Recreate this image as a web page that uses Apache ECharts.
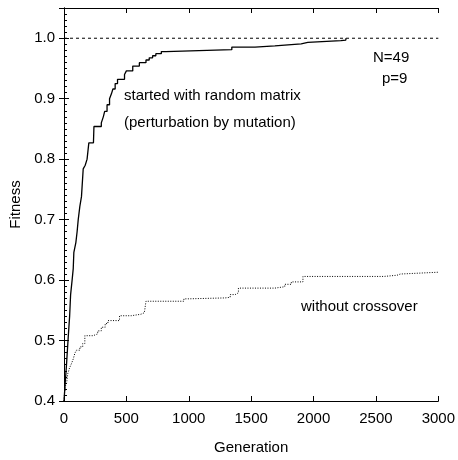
<!DOCTYPE html>
<html>
<head>
<meta charset="utf-8">
<script src="https://cdn.jsdelivr.net/npm/echarts@6/dist/echarts.min.js"></script>
<style>html,body{margin:0;padding:0;background:#fff}#c{width:458px;height:460px}</style>
</head>
<body>
<div id="c"></div>
<script>
// Generation vs fitness (step points: [generation, fitness])
var randomMatrix = [
  [0,0.40],[8,0.425],[20,0.46],[34,0.506],[45,0.54],[53,0.576],[65,0.60],[74,0.619],
  [79,0.646],[95,0.662],[105,0.68],[114,0.70],[127,0.722],[140,0.738],[154,0.784],
  [170,0.79],[185,0.80],[199,0.827],[236,0.83],[240,0.854],[299,0.86],[315,0.87],
  [326,0.879],[345,0.89],[365,0.90],[380,0.908],[392,0.916],[410,0.925],[429,0.932],
  [485,0.940],[500,0.946],[551,0.954],[604,0.9595],[657,0.964],[683,0.9676],[710,0.971],
  [736,0.9745],[780,0.978],[816,0.981],[1345,0.9854],[1531,0.9875],[1690,0.9908],
  [1901,0.993],[1954,0.996],[2219,0.997],[2259,1.0]
];
var withoutCrossover = [
  [0,0.40],[5,0.415],[12,0.425],[21,0.43],[30,0.445],[45,0.455],[61,0.4624],[75,0.47],
  [87,0.479],[100,0.484],[127,0.4895],[150,0.495],[167,0.508],[233,0.511],[270,0.516],
  [299,0.522],[330,0.528],[352,0.533],[445,0.541],[538,0.5435],[617,0.546],[644,0.549],
  [657,0.565],[961,0.569],[1001,0.5705],[1292,0.5715],[1332,0.576],[1372,0.579],
  [1398,0.5867],[1690,0.589],[1769,0.593],[1822,0.597],[1915,0.606],[2564,0.608],
  [2669,0.61],[2696,0.613],[3000,0.613]
];
var optimum = [[0,1.0],[3000,1.0]];
var xTicks = [0,500,1000,1500,2000,2500,3000];
var yTicks = [0.4,0.5,0.6,0.7,0.8,0.9,1.0];

var FONT = 'Liberation Sans';
var chart = echarts.init(document.getElementById('c'));
var axisLineStyle = {color:'#000', width:1};
chart.setOption({
  animation:false,
  backgroundColor:'#fff',
  textStyle:{fontFamily:FONT},
  grid:{left:64, right:16, top:8, bottom:53},
  xAxis:[{
    type:'value', min:0, max:3000, interval:500,
    name:'Generation', nameLocation:'middle', nameGap:39,
    nameTextStyle:{color:'#000', fontSize:15, fontFamily:FONT},
    axisLine:{show:true, lineStyle:axisLineStyle},
    axisTick:{show:true, inside:true, length:5, lineStyle:axisLineStyle},
    axisLabel:{color:'#000', fontSize:15, fontFamily:FONT, margin:10,
      formatter:function(v){return xTicks.indexOf(v)>=0? String(v):'';}},
    splitLine:{show:false}
  },{
    type:'value', min:0, max:3000, interval:500, position:'top',
    axisLine:{show:true, lineStyle:axisLineStyle},
    axisTick:{show:true, inside:true, length:5, lineStyle:axisLineStyle},
    axisLabel:{show:false}, splitLine:{show:false}
  }],
  yAxis:[{
    type:'value', min:0.4, max:1.05, interval:0.1,
    name:'Fitness', nameLocation:'middle', nameGap:38, nameRotate:90,
    nameTextStyle:{color:'#000', fontSize:15, fontFamily:FONT},
    axisLine:{show:true, lineStyle:axisLineStyle},
    axisTick:{show:true, inside:true, length:5, lineStyle:axisLineStyle},
    minorTick:{show:true, splitNumber:10, length:3, lineStyle:{color:'#000', width:1}},
    axisLabel:{color:'#000', fontSize:15, fontFamily:FONT, margin:9, showMaxLabel:false,
      formatter:function(v){
        var r = Math.round(v*10)/10;
        return (Math.abs(v-r)<1e-6 && yTicks.indexOf(r)>=0) ? r.toFixed(1) : '';
      }},
    splitLine:{show:false}
  },{
    type:'value', min:0.4, max:1.05, interval:0.1, position:'right',
    axisLine:{show:true, lineStyle:axisLineStyle},
    axisTick:{show:true, inside:true, length:5, lineStyle:axisLineStyle},
    axisLabel:{show:false}, splitLine:{show:false}
  }],
  series:[
    {type:'line', data:optimum, symbol:'none', silent:true,
     lineStyle:{color:'#000', width:1, type:[3,3]}},
    {type:'line', data:withoutCrossover, step:'end', symbol:'none',
     lineStyle:{color:'#000', width:1, type:[1,1.5]}},
    {type:'line', data:randomMatrix, step:'end', symbol:'none',
     lineStyle:{color:'#000', width:1.3}}
  ],
  graphic:[
    {type:'text', left:124, top:88, style:{text:'started with random matrix', font:'15px "Liberation Sans"', fill:'#000'}},
    {type:'text', left:124, top:115, style:{text:'(perturbation by mutation)', font:'15px "Liberation Sans"', fill:'#000'}},
    {type:'text', left:373, top:50, style:{text:'N=49', font:'15px "Liberation Sans"', fill:'#000'}},
    {type:'text', left:382, top:71, style:{text:'p=9', font:'15px "Liberation Sans"', fill:'#000'}},
    {type:'text', left:301, top:299, style:{text:'without crossover', font:'15px "Liberation Sans"', fill:'#000'}}
  ]
});
</script>
</body>
</html>
